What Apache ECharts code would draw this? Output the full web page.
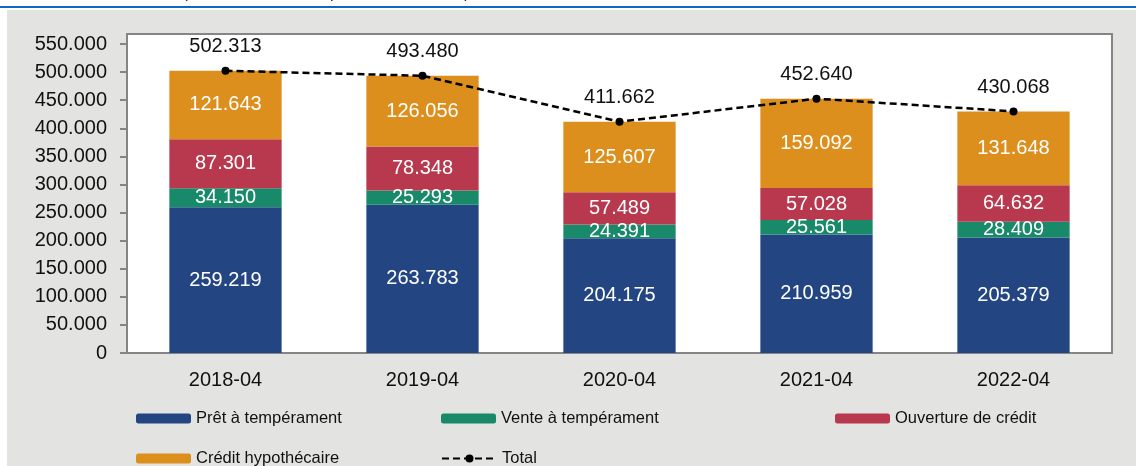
<!DOCTYPE html>
<html>
<head>
<meta charset="utf-8">
<script src="https://cdn.jsdelivr.net/npm/echarts@6/dist/echarts.min.js"></script>
<style>
  html, body { margin: 0; padding: 0; background: #fff; }
  #chart { width: 1136px; height: 466px; }
</style>
</head>
<body>
<div id="chart"></div>
<script>
const categories = ['2018-04', '2019-04', '2020-04', '2021-04', '2022-04']
const pret = [259219, 263783, 204175, 210959, 205379]
const vente = [34150, 25293, 24391, 25561, 28409]
const ouverture = [87301, 78348, 57489, 57028, 64632]
const hypotheque = [121643, 126056, 125607, 159092, 131648]
const total = [502313, 493480, 411662, 452640, 430068]
const yTicks = { min: 0, max: 550000, interval: 50000 }

const FONT = 'Liberation Sans, Arial, sans-serif'

// 1.234.567 style
const fmt = v => String(v).replace(/\B(?=(\d{3})+(?!\d))/g, '.')

const chart = echarts.init(document.getElementById('chart'))

const barLabel = {
    show: true,
    position: 'inside',
    color: '#fff',
    fontFamily: FONT,
    fontSize: 20,
    formatter: p => fmt(p.value)
}

const barSeries = (name, data, color) => ({
    name,
    type: 'bar',
    stack: 'total',
    data,
    barWidth: '57%',
    itemStyle: { color },
    label: barLabel
})

const legendAt = (name, left, top) => ({
    data: [name],
    left,
    top,
    itemWidth: 55,
    itemHeight: 10,
    itemGap: 0,
    textStyle: { fontFamily: FONT, fontSize: 16.5, color: '#111' }
})

const option = {
    animation: false,
    graphic: [
        { type: 'rect', z: -10, shape: { x: 7, y: 10, width: 1129, height: 456 }, style: { fill: '#e3e3e2' } },
        { type: 'rect', z: -10, shape: { x: 0, y: 6, width: 1136, height: 2 }, style: { fill: '#0a6cc0' } },
        { type: 'text', z: -10, x: 326, y: -14, style: { text: '(nombre de contrats par forme de crédit)', fill: '#222', font: '16px ' + FONT, align: 'center' } },
        { type: 'rect', z: -5, shape: { x: 127, y: 34, width: 985, height: 319 }, style: { fill: '#fff', stroke: '#858585', lineWidth: 2 } }
    ],
    grid: { left: 127, right: 24, top: 44, bottom: 113 },
    legend: [
        legendAt('Prêt à tempérament', 131, 405),
        legendAt('Vente à tempérament', 436, 405),
        legendAt('Ouverture de crédit', 830, 405),
        legendAt('Crédit hypothécaire', 131, 445),
        legendAt('Total', 436, 445)
    ],
    xAxis: {
        type: 'category',
        data: categories,
        axisLine: { lineStyle: { color: '#858585', width: 2 } },
        axisTick: { show: false },
        axisLabel: { color: '#111', fontFamily: FONT, fontSize: 20, margin: 17 }
    },
    yAxis: {
        type: 'value',
        min: yTicks.min,
        max: yTicks.max,
        interval: yTicks.interval,
        axisLine: { show: false },
        axisTick: { show: true, length: 7, lineStyle: { color: '#858585', width: 2 } },
        splitLine: { show: false },
        axisLabel: { color: '#111', fontFamily: FONT, fontSize: 20, margin: 20, formatter: v => fmt(v) }
    },
    series: [
        barSeries('Prêt à tempérament', pret, '#234683'),
        barSeries('Vente à tempérament', vente, '#188a69'),
        barSeries('Ouverture de crédit', ouverture, '#b8384e'),
        barSeries('Crédit hypothécaire', hypotheque, '#dc8f1d'),
        {
            name: 'Total',
            type: 'line',
            data: total,
            symbol: 'circle',
            symbolSize: 8,
            z: 5,
            itemStyle: { color: '#000' },
            lineStyle: { color: '#000', width: 2.5, type: [7, 4] },
            label: {
                show: true,
                position: 'top',
                distance: 10,
                color: '#111',
                fontFamily: FONT,
                fontSize: 20,
                formatter: p => fmt(p.value)
            }
        }
    ]
}

chart.setOption(option)
</script>
</body>
</html>
